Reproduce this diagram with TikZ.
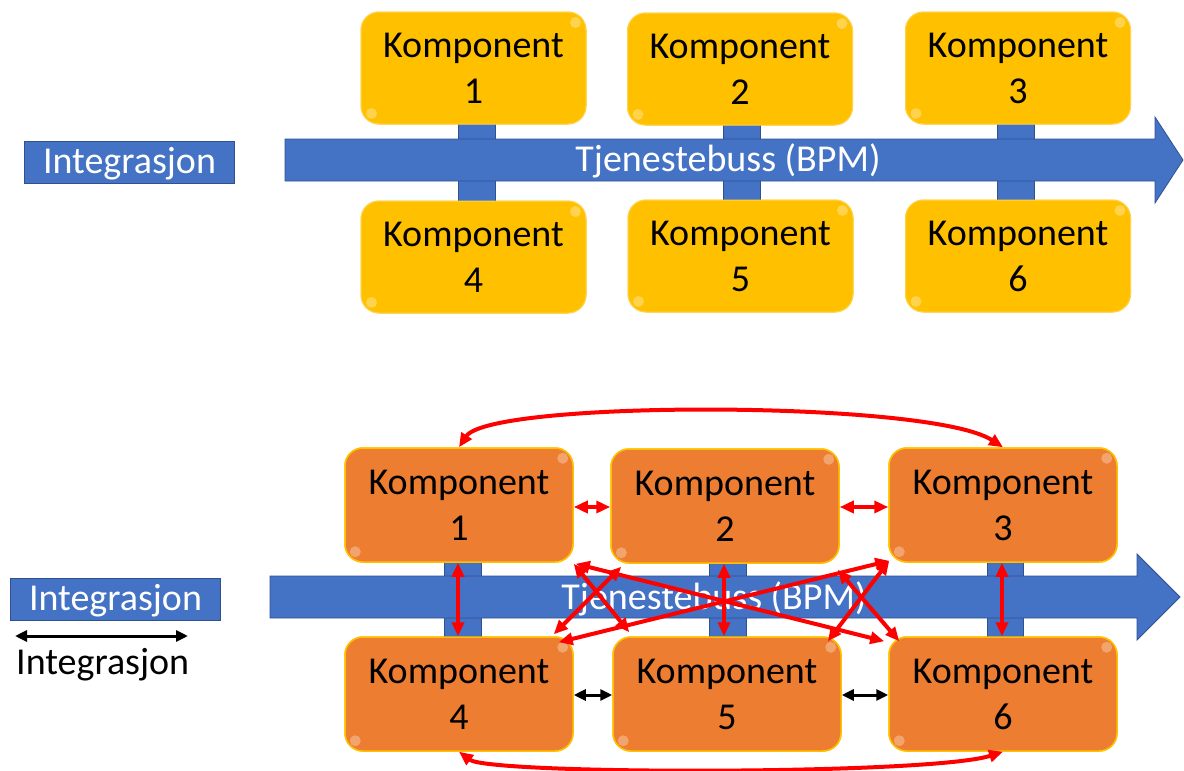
\documentclass[tikz,border=0pt]{standalone}
\usepackage{fontspec}
\setmainfont{Carlito}
\usetikzlibrary{arrows.meta,calc}
\definecolor{compyellow}{HTML}{FFC000}
\definecolor{comporange}{HTML}{ED7D31}
\definecolor{compgold}{HTML}{FFC000}
\definecolor{busblue}{HTML}{4472C4}
\definecolor{busedge}{HTML}{2F528F}
\definecolor{arrred}{HTML}{FF0000}
\tikzset{
  comp/.style={rounded corners=18pt, align=center, inner sep=0pt,
    font=\fontsize{38}{46}\selectfont, text=black,
    execute at begin node={\rule{0pt}{31pt}}},
  ycomp/.style={comp, fill=compyellow, draw=compyellow!70!white, line width=1pt,
    minimum width=225pt, minimum height=112pt},
  ocomp/.style={comp, fill=comporange, draw=compgold, line width=1.5pt,
    minimum width=228pt, minimum height=114pt},
  busfill/.style={fill=busblue, draw=busedge, line width=0.8pt},
  intbox/.style={fill=busblue, draw=busedge, line width=1pt, inner sep=0pt,
    minimum width=210pt, minimum height=42pt, text=white,
    text height=28pt, text depth=6pt,
    font=\fontsize{38}{46}\selectfont},
  bustext/.style={text=white, font=\fontsize{38}{46}\selectfont, inner sep=0pt,
    text height=28pt, text depth=6pt},
  rarr/.style={arrred, line width=4pt,
    {Triangle[length=14pt,width=12pt]}-{Triangle[length=14pt,width=12pt]}},
  karr/.style={black, line width=3pt,
    {Triangle[length=12pt,width=11pt]}-{Triangle[length=12pt,width=11pt]}},
  gloss/.style={fill=white, opacity=0.3}
}
\begin{document}
\begin{tikzpicture}[x=1pt,y=-1pt]
\useasboundingbox (0,0) rectangle (1184,771);

% ================= TOP =================
\node[intbox] (int1) at (129.5,162) {Integrasjon};

\path (473.5,68) node[ycomp] (a1) {Komponent\\1};
\path (740,69) node[ycomp] (a2) {Komponent\\2};
\path (1018,68) node[ycomp] (a3) {Komponent\\3};
\path (473.5,257) node[ycomp] (a4) {Komponent\\4};
\path (740.5,256) node[ycomp] (a5) {Komponent\\5};
\path (1018,256) node[ycomp] (a6) {Komponent\\6};

% connectors
\path[busfill] ($(a1.south)+(-15,-2)$) rectangle ($(a4.north)+(22,2)$);
\path[busfill] ($(a2.south)+(-17,-2)$) rectangle ($(a5.north)+(20,2)$);
\path[busfill] ($(a3.south)+(-21,-2)$) rectangle ($(a6.north)+(16,2)$);

% bus arrow
\path[busfill] (285,139) -- (1155,139) -- (1155,117) -- (1183,160) -- (1155,203)
  -- (1155,181) -- (285,181) -- cycle;
\node[bustext] (bus1) at (728,160) {Tjenestebuss (BPM)};

% boxes on top
\path (473.5,68) node[ycomp] {Komponent\\1};
\path (740,69) node[ycomp] {Komponent\\2};
\path (1018,68) node[ycomp] {Komponent\\3};
\path (473.5,257) node[ycomp] {Komponent\\4};
\path (740.5,256) node[ycomp] {Komponent\\5};
\path (1018,256) node[ycomp] {Komponent\\6};
\foreach \n in {a1,a2,a3,a4,a5,a6}{
  \fill[gloss] ($(\n.north east)+(-11,11)$) circle (5.5pt);
  \fill[gloss] ($(\n.south west)+(11,-11)$) circle (5.5pt);
}

% ================= BOTTOM =================
\node[intbox] (int2) at (115.5,599) {Integrasjon};
\coordinate (la) at (15,636);
\coordinate (lb) at (188,636);
\draw[karr] (la) -- (lb);
\node[font=\fontsize{38}{46}\selectfont, inner sep=0pt, anchor=west] (int3) at (16,665) {Integrasjon};

\path (459,505) node[ocomp] (b1) {Komponent\\1};
\path (725,506) node[ocomp] (b2) {Komponent\\2};
\path (1003,505) node[ocomp] (b3) {Komponent\\3};
\path (459,694) node[ocomp] (b4) {Komponent\\4};
\path (727,694) node[ocomp] (b5) {Komponent\\5};
\path (1003,694) node[ocomp] (b6) {Komponent\\6};

\path[busfill] ($(b1.south)+(-15,-2)$) rectangle ($(b4.north)+(22,2)$);
\path[busfill] ($(b2.south)+(-16,-2)$) rectangle ($(b5.north)+(19,2)$);
\path[busfill] ($(b3.south)+(-16,-2)$) rectangle ($(b6.north)+(20,2)$);

\path[busfill] (270,576) -- (1137,576) -- (1137,554) -- (1180,597) -- (1137,640)
  -- (1137,618) -- (270,618) -- cycle;
\node[bustext] (bus2) at (714,598) {Tjenestebuss (BPM)};

\path (459,505) node[ocomp] {Komponent\\1};
\path (725,506) node[ocomp] {Komponent\\2};
\path (1003,505) node[ocomp] {Komponent\\3};
\path (459,694) node[ocomp] {Komponent\\4};
\path (727,694) node[ocomp] {Komponent\\5};
\path (1003,694) node[ocomp] {Komponent\\6};
\foreach \n in {b1,b2,b3,b4,b5,b6}{
  \fill[gloss] ($(\n.north east)+(-11,11)$) circle (5.5pt);
  \fill[gloss] ($(\n.south west)+(11,-11)$) circle (5.5pt);
}

% arcs
\draw[rarr] (b1.north) .. controls (490,400) and (930,400) .. (b3.north);
\draw[rarr] (b4.south) .. controls (490,775) and (930,775) .. (b6.south);

% horizontal
\draw[rarr] ($(b1.east)+(0,2)$) -- ($(b2.west)+(0,1)$);
\draw[rarr] ($(b2.east)+(0,1)$) -- ($(b3.west)+(0,2)$);
\draw[karr] ($(b4.east)+(0,1)$) -- ($(b5.west)+(0,1)$);
\draw[karr] ($(b5.east)+(0,1)$) -- ($(b6.west)+(0,1)$);

% vertical
\draw[rarr] ($(b1.south)+(-1,0)$) -- ($(b4.north)+(-1,0)$);
\draw[rarr] ($(b2.south)+(-1,0)$) -- ($(b5.north)+(-3,0)$);
\draw[rarr] ($(b3.south)+(-1,0)$) -- ($(b6.north)+(-1,0)$);

% diagonals
\draw[rarr] ($(b1.south east)+(0,1)$) -- ($(b5.north west)+(17,-4)$);
\draw[rarr] ($(b2.south west)+(11,3)$) -- ($(b4.north east)+(-20,-2)$);
\draw[rarr] ($(b1.south east)+(2,1)$) -- ($(b6.north west)+(-4,5)$);
\draw[rarr] ($(b4.north east)+(-15,6)$) -- ($(b3.south west)+(1,-2)$);
\draw[rarr] ($(b2.south east)+(-2,6)$) -- ($(b6.north west)+(11,5)$);
\draw[rarr] ($(b5.north east)+(-14,5)$) -- ($(b3.south west)+(1,-2)$);
\end{tikzpicture}
\end{document}
